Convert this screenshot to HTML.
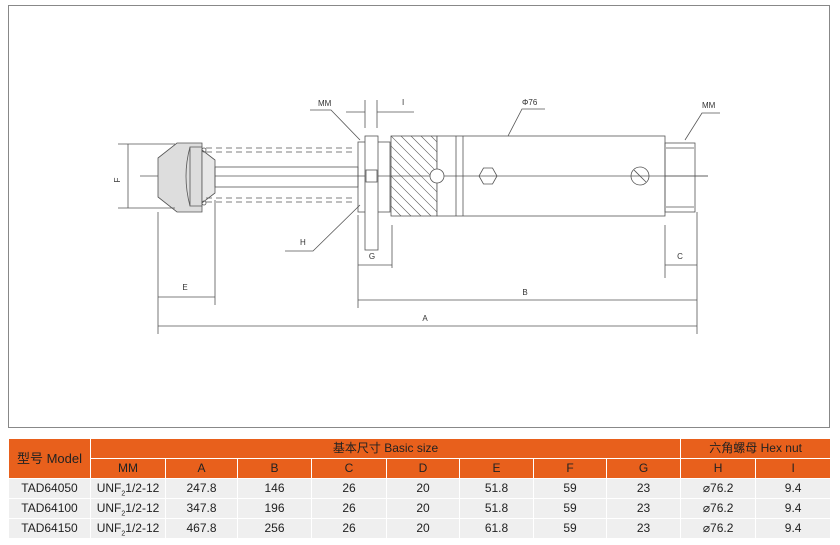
<!DOCTYPE html>
<html><head><meta charset="utf-8"><style>
body{margin:0;background:#fff;width:840px;height:545px;overflow:hidden;font-family:"Liberation Sans","Noto Sans CJK SC",sans-serif}
svg{position:absolute;left:0;top:0}
table{position:absolute;left:8px;top:438px;width:822px;border-collapse:collapse;font-size:12px;table-layout:fixed}
td{text-align:center;padding:0;height:19px;line-height:19px;border:1px solid #fff;color:#222}
.h{background:#e8601c;color:#fff}
.d td{background:#efefef}
</style></head><body>
<svg width="840" height="430" viewBox="0 0 840 430" font-family="Liberation Sans, sans-serif" font-size="8" fill="#333">
<rect x="8.5" y="5.5" width="821" height="422" fill="none" stroke="#888"/>
<g stroke="#555" stroke-width="0.8" fill="none">
<line x1="140" y1="176" x2="708" y2="176"/>
<polygon points="158,158 177,143 202,143 202,212 177,212 158,197" fill="#ddd"/>
<path d="M190,147 Q182,176 190,206" />
<polygon points="190,147 202,147 202,206 190,206" fill="#ddd"/>
<polygon points="202,150 215,160 215,193 202,203" fill="#e8e8e8"/>
<circle cx="204" cy="150" r="2"/><circle cx="204" cy="203" r="2"/>
<rect x="215" y="167" width="143" height="20"/>
<g stroke-dasharray="6,4"><line x1="206" y1="148" x2="352" y2="148"/><line x1="206" y1="152" x2="352" y2="152"/><line x1="206" y1="198" x2="352" y2="198"/><line x1="206" y1="202" x2="352" y2="202"/></g>
<rect x="358" y="142" width="32" height="70"/>
<rect x="365" y="136" width="13" height="114" fill="#fff"/>
<rect x="366" y="170" width="11" height="12"/>
<rect x="391" y="136" width="46" height="80"/>
<clipPath id="c"><rect x="391" y="136" width="46" height="80"/></clipPath>
<g clip-path="url(#c)" stroke-width="0.6"><path d="M371,136 l80,80 M381,136 l80,80 M391,136 l80,80 M401,136 l80,80 M411,136 l80,80 M421,136 l80,80 M431,136 l80,80 M361,136 l80,80 M351,136 l80,80 M341,136 l80,80 M331,136 l80,80 M321,136 l80,80 M311,136 l80,80"/></g>
<rect x="437" y="136" width="228" height="80" fill="#fff"/>
<line x1="456" y1="136" x2="456" y2="216"/><line x1="463" y1="136" x2="463" y2="216"/>
<line x1="437" y1="176" x2="708" y2="176"/>
<circle cx="437" cy="176" r="7" fill="#fff"/>
<polygon points="497,176 492.5,184 483.5,184 479,176 483.5,168 492.5,168"/>
<circle cx="640" cy="176" r="9"/><line x1="634" y1="170" x2="646" y2="182"/>
<rect x="665" y="143" width="30" height="69"/>
<line x1="666" y1="148" x2="694" y2="148"/><line x1="666" y1="207" x2="694" y2="207"/>
<line x1="118" y1="144" x2="175" y2="144"/><line x1="118" y1="208" x2="175" y2="208"/><line x1="128" y1="144" x2="128" y2="208"/>
<line x1="158" y1="212" x2="158" y2="334"/><line x1="215" y1="200" x2="215" y2="305"/>
<line x1="358" y1="215" x2="358" y2="308"/><line x1="392" y1="225" x2="392" y2="268"/>
<line x1="665" y1="225" x2="665" y2="278"/><line x1="697" y1="212" x2="697" y2="334"/>
<line x1="358" y1="265" x2="392" y2="265"/><line x1="665" y1="265" x2="697" y2="265"/>
<line x1="158" y1="297" x2="215" y2="297"/><line x1="358" y1="300" x2="697" y2="300"/><line x1="158" y1="326" x2="697" y2="326"/>
<line x1="365" y1="100" x2="365" y2="128"/><line x1="377" y1="100" x2="377" y2="128"/><line x1="346" y1="112" x2="365" y2="112"/><line x1="377" y1="112" x2="414" y2="112"/>
<polyline points="310,110 331,110 360,140"/><polyline points="285,251 313,251 360,205"/>
<polyline points="545,109 522,109 508,136"/><polyline points="720,113 702,113 685,140"/>
</g>
<g fill="#333">
<text x="120" y="180" transform="rotate(-90 120 180)" text-anchor="middle">F</text>
<text x="318" y="106">MM</text><text x="402" y="105">I</text>
<text x="300" y="245">H</text><text x="522" y="105">Φ76</text><text x="702" y="108">MM</text>
<text x="372" y="259" text-anchor="middle">G</text><text x="680" y="259" text-anchor="middle">C</text>
<text x="185" y="290" text-anchor="middle">E</text><text x="525" y="295" text-anchor="middle">B</text><text x="425" y="321" text-anchor="middle">A</text>
</g>
</svg>
<table>
<colgroup><col style="width:82px"><col style="width:75px"><col style="width:72px"><col style="width:74px"><col style="width:75px"><col style="width:73px"><col style="width:74px"><col style="width:73px"><col style="width:74px"><col style="width:75px"><col style="width:75px"></colgroup>
<tr class="h"><td rowspan="2" style="font-size:13px">型号 Model</td><td colspan="8">基本尺寸 Basic size</td><td colspan="2">六角螺母 Hex nut</td></tr>
<tr class="h"><td>MM</td><td>A</td><td>B</td><td>C</td><td>D</td><td>E</td><td>F</td><td>G</td><td>H</td><td>I</td></tr>
<tr class="d"><td>TAD64050</td><td>UNF<sub style="font-size:7px;line-height:0">2</sub>1/2-12</td><td>247.8</td><td>146</td><td>26</td><td>20</td><td>51.8</td><td>59</td><td>23</td><td>⌀76.2</td><td>9.4</td></tr>
<tr class="d"><td>TAD64100</td><td>UNF<sub style="font-size:7px;line-height:0">2</sub>1/2-12</td><td>347.8</td><td>196</td><td>26</td><td>20</td><td>51.8</td><td>59</td><td>23</td><td>⌀76.2</td><td>9.4</td></tr>
<tr class="d"><td>TAD64150</td><td>UNF<sub style="font-size:7px;line-height:0">2</sub>1/2-12</td><td>467.8</td><td>256</td><td>26</td><td>20</td><td>61.8</td><td>59</td><td>23</td><td>⌀76.2</td><td>9.4</td></tr>
</table>
</body></html>
